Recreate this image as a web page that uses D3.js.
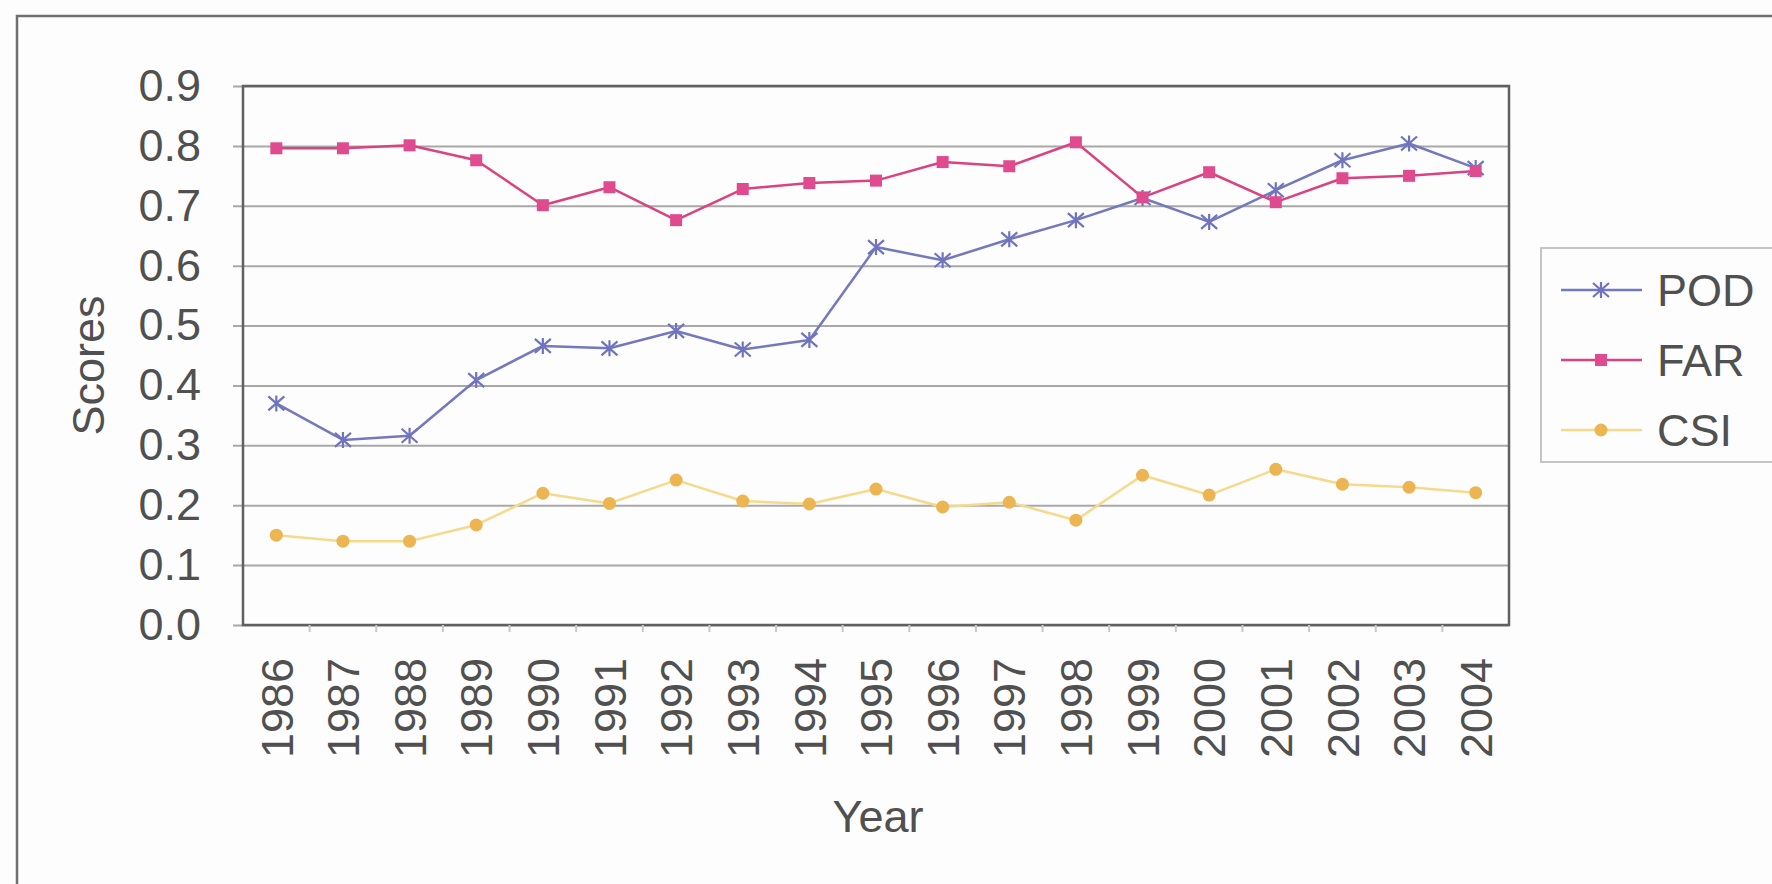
<!DOCTYPE html>
<html>
<head>
<meta charset="utf-8">
<script src="https://cdn.jsdelivr.net/npm/d3@7"></script>
<style>
  html, body { margin: 0; padding: 0; background: #fdfdfd; }
  svg { display: block; }
  text { font-family: "Liberation Sans", Arial, sans-serif; fill: #505050; }
</style>
</head>
<body>
<svg id="svg" width="1772" height="884"></svg>
<script>
// years on the x axis
const years = [1986, 1987, 1988, 1989, 1990, 1991, 1992, 1993, 1994, 1995,
               1996, 1997, 1998, 1999, 2000, 2001, 2002, 2003, 2004];
// scores
const pod = [0.370, 0.309, 0.316, 0.409, 0.466, 0.462, 0.491, 0.460, 0.476, 0.631,
             0.609, 0.644, 0.676, 0.713, 0.673, 0.726, 0.776, 0.804, 0.763];
const far = [0.796, 0.796, 0.801, 0.776, 0.701, 0.731, 0.676, 0.728, 0.738, 0.742,
             0.773, 0.766, 0.806, 0.714, 0.756, 0.706, 0.746, 0.750, 0.758];
const csi = [0.150, 0.140, 0.140, 0.167, 0.220, 0.203, 0.242, 0.207, 0.202, 0.227,
             0.197, 0.205, 0.175, 0.250, 0.217, 0.260, 0.235, 0.230, 0.221];
const yTicks = [0, 0.1, 0.2, 0.3, 0.4, 0.5, 0.6, 0.7, 0.8, 0.9];
const seriesNames = ["POD", "FAR", "CSI"];

const series = [
  { name: "POD", values: pod, line: "#7478bd", marker: "star", fill: "#6f73c0" },
  { name: "FAR", values: far, line: "#d9437f", marker: "square", fill: "#e04a8f" },
  { name: "CSI", values: csi, line: "#f6d98a", marker: "circle", fill: "#ecb552" }
];

const svg = d3.select("#svg");
const margin = { top: 86, right: 263, bottom: 259, left: 243 };
const W = 1772, H = 884;

const x = d3.scalePoint()
  .domain(years)
  .range([margin.left, W - margin.right])
  .padding(0.5);

const y = d3.scaleLinear()
  .domain([0, 0.9])
  .range([H - margin.bottom, margin.top]);

// outer frame
svg.append("rect")
  .attr("x", 17).attr("y", 16)
  .attr("width", 1800).attr("height", 1000)
  .attr("fill", "#fdfdfd")
  .attr("stroke", "#707070").attr("stroke-width", 2.5);

// gridlines (they stick out on the left like ticks)
svg.append("g")
  .attr("transform", `translate(${margin.left - 10},0)`)
  .call(d3.axisLeft(y).tickValues(yTicks).tickSize(-(W - margin.right - margin.left + 10)).tickFormat(""))
  .call(g => g.select(".domain").remove())
  .call(g => g.selectAll(".tick line").attr("stroke", "#a8a8a8").attr("stroke-width", 2));

// y labels
svg.append("g")
  .attr("transform", `translate(${margin.left},0)`)
  .call(d3.axisLeft(y).tickValues(yTicks).tickSize(10).tickPadding(32).tickFormat(d3.format(".1f")))
  .call(g => g.select(".domain").remove())
  .call(g => g.selectAll(".tick line").remove())
  .call(g => g.selectAll("text").attr("font-size", 45).attr("fill", "#505050")
    .attr("font-family", "Liberation Sans, Arial, sans-serif"));

// plot border
svg.append("rect")
  .attr("x", margin.left).attr("y", margin.top)
  .attr("width", W - margin.right - margin.left)
  .attr("height", H - margin.bottom - margin.top)
  .attr("fill", "none")
  .attr("stroke", "#606060").attr("stroke-width", 2.5);

// x ticks at category boundaries
const step = x.step();
svg.append("g").selectAll("line")
  .data(years.slice(0, -1))
  .join("line")
  .attr("x1", d => x(d) + step / 2).attr("x2", d => x(d) + step / 2)
  .attr("y1", y(0)).attr("y2", y(0) + 7)
  .attr("stroke", "#c8c8c8").attr("stroke-width", 2);

// x labels
svg.append("g").selectAll("text")
  .data(years)
  .join("text")
  .attr("transform", d => `translate(${x(d)},${y(0) + 33}) rotate(-90)`)
  .attr("text-anchor", "end")
  .attr("dy", "0.36em")
  .attr("font-size", 45)
  .text(d => d);

// axis titles
svg.append("text")
  .attr("x", 878).attr("y", 816)
  .attr("text-anchor", "middle")
  .attr("dy", "0.36em")
  .attr("font-size", 45)
  .text("Year");

svg.append("text")
  .attr("transform", `translate(88,${(y(0) + y(0.9)) / 2 + 10}) rotate(-90)`)
  .attr("text-anchor", "middle")
  .attr("dy", "0.36em")
  .attr("font-size", 45)
  .text("Scores");

// markers
function drawMarker(g, type, color, lineColor) {
  if (type === "square") {
    g.append("rect").attr("x", -6).attr("y", -6).attr("width", 12).attr("height", 12)
      .attr("fill", color);
  } else if (type === "circle") {
    g.append("circle").attr("r", 6.5).attr("fill", color);
  } else {
    g.append("path").attr("d", "M-8,-7L8,7M-8,7L8,-7M0,-8L0,8")
      .attr("stroke", color).attr("stroke-width", 2.2).attr("fill", "none");
  }
}

const line = d3.line()
  .x((d, i) => x(years[i]))
  .y(d => y(d));

// draw CSI first, then POD, then FAR on top
[series[2], series[0], series[1]].forEach(s => {
  svg.append("path")
    .datum(s.values)
    .attr("fill", "none")
    .attr("stroke", s.line)
    .attr("stroke-width", 2.5)
    .attr("stroke-linejoin", "round")
    .attr("d", line);
  svg.append("g").selectAll("g")
    .data(s.values)
    .join("g")
    .attr("transform", (d, i) => `translate(${x(years[i])},${y(d)})`)
    .each(function () { drawMarker(d3.select(this), s.marker, s.fill, s.line); });
});

// legend
const legend = svg.append("g");
legend.append("rect")
  .attr("x", 1541).attr("y", 248)
  .attr("width", 300).attr("height", 214)
  .attr("fill", "#fdfdfd")
  .attr("stroke", "#c4c4c4").attr("stroke-width", 2);

seriesNames.forEach((name, i) => {
  const s = series.find(d => d.name === name);
  const ly = 290 + i * 70;
  legend.append("line")
    .attr("x1", 1561).attr("x2", 1642)
    .attr("y1", ly).attr("y2", ly)
    .attr("stroke", s.line).attr("stroke-width", 2.5);
  const m = legend.append("g").attr("transform", `translate(1601,${ly})`);
  drawMarker(m, s.marker, s.fill, s.line);
  legend.append("text")
    .attr("x", 1657).attr("y", ly)
    .attr("dy", "0.36em")
    .attr("font-size", 45)
    .text(name);
});
</script>
</body>
</html>
